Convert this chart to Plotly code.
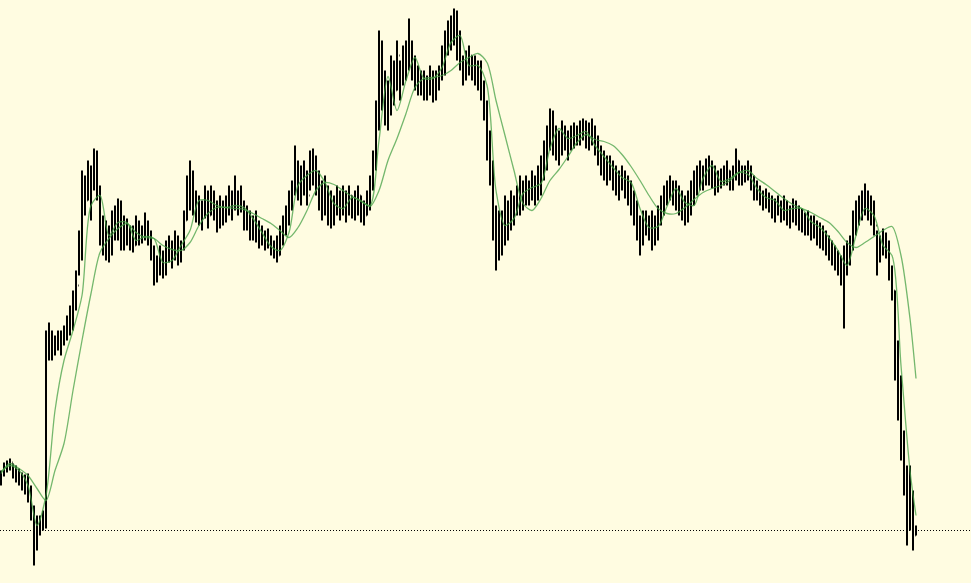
import plotly.graph_objects as go

# ---- data (price points) ----
highs = [113,121,123,125,120,118,115,111,109,110,
         98,78,68,68,73,253,261,253,248,253,
         253,258,268,278,293,313,353,413,408,423,
         418,435,433,398,368,363,358,373,378,385,
         383,368,365,358,358,368,363,358,371,363,
         353,338,328,338,333,343,348,343,353,348,
         343,373,408,423,413,393,388,383,398,393,
         398,393,383,388,383,388,398,393,408,393,
         398,383,378,373,368,373,363,358,353,355,
         348,343,348,358,368,378,393,403,438,423,
         418,423,413,433,435,428,413,403,408,398,
         393,388,398,393,398,393,398,388,393,398,
         388,383,393,408,433,483,553,543,513,503,
         528,523,543,523,538,543,565,543,528,518,
         513,513,508,518,513,513,518,538,553,563,
         568,575,573,553,528,533,538,528,528,523,
         523,503,483,453,423,378,373,373,388,383,
         393,388,398,408,403,408,403,413,408,418,
         428,443,458,475,473,458,453,463,458,453,
         458,461,458,463,465,463,461,465,458,448,
         438,433,428,428,423,418,413,418,413,408,
         403,393,383,368,373,373,368,373,368,378,
         388,398,403,408,403,403,398,393,388,393,
         403,413,418,423,418,425,428,423,418,413,
         415,418,423,413,418,435,423,418,418,423,
         418,408,403,398,393,395,391,388,385,388,
         383,388,383,378,385,383,378,375,371,373,
         368,368,363,361,358,353,348,343,338,333,
         328,338,343,348,373,383,388,393,400,393,
         388,383,353,348,355,351,343,318,293,243,
         208,153,118,118,93,58]
lows = [98,107,111,113,105,101,98,93,89,81,
        63,18,33,48,53,55,223,223,228,233,
        228,238,243,248,253,273,308,323,368,383,
        363,393,383,338,328,323,321,328,343,343,
        333,333,338,333,331,338,338,340,343,338,
        323,298,301,308,305,308,321,315,323,318,
        321,333,363,373,368,361,358,353,365,355,
        368,363,351,355,358,361,368,363,373,368,
        371,353,353,343,343,341,335,338,333,335,
        328,325,321,328,338,348,358,373,388,383,
        378,388,378,393,398,388,373,363,368,358,
        355,358,368,363,368,361,368,365,363,368,
        361,358,368,373,393,413,453,473,458,453,
        468,478,493,483,498,503,513,503,493,488,
        488,483,483,488,481,483,493,503,508,528,
        533,538,523,513,498,503,508,503,498,493,
        483,463,423,398,343,313,323,328,338,343,
        353,358,368,368,373,378,378,383,378,383,
        388,403,413,433,428,423,418,428,433,423,
        433,435,438,438,443,435,433,438,428,418,
        408,403,398,403,393,388,383,393,385,378,
        368,358,343,328,338,348,343,333,338,343,
        358,368,378,383,378,373,368,363,358,361,
        368,378,388,393,393,398,398,395,388,391,
        395,398,398,393,393,403,398,398,401,403,
        393,383,383,378,373,375,371,365,361,368,
        361,363,358,355,361,358,353,351,348,348,
        343,345,338,335,333,328,323,318,313,308,
        298,255,308,318,333,348,358,363,368,363,
        358,348,308,321,328,325,303,283,203,163,
        123,88,38,53,33,48]
closes = [111,118,115,121,113,107,103,108,93,88,
          68,43,53,58,68,248,238,233,243,238,
          245,248,258,263,283,298,343,398,383,408,
          408,418,393,348,338,343,333,358,351,368,
          353,343,355,348,338,353,348,345,358,351,
          328,308,315,323,318,328,338,328,343,328,
          338,363,393,383,378,373,368,378,373,368,
          388,373,363,368,373,378,383,383,388,383,
          378,363,368,353,358,348,343,348,343,345,
          333,335,328,348,358,368,383,393,413,403,
          393,408,388,418,413,403,398,378,388,373,
          368,378,388,378,383,373,388,378,373,388,
          373,368,383,403,423,468,523,488,473,483,
          508,493,528,503,518,528,538,523,508,503,
          498,493,498,503,488,503,511,528,543,548,
          553,558,548,523,508,523,528,518,513,508,
          493,473,438,413,358,348,358,343,368,363,
          378,373,383,388,393,398,388,398,393,408,
          418,433,448,463,443,438,433,448,443,438,
          451,448,453,455,453,448,445,453,438,433,
          423,413,418,413,403,408,398,408,398,393,
          383,368,358,348,363,358,353,348,358,368,
          378,388,393,398,388,383,378,373,368,378,
          393,403,408,413,403,415,418,408,398,403,
          408,411,413,403,408,423,408,413,411,415,
          405,393,395,388,383,388,378,373,378,375,
          371,378,368,368,375,368,363,358,358,355,
          353,355,348,343,341,338,333,328,323,318,
          313,318,328,338,363,373,378,383,383,378,
          368,358,338,338,343,333,313,293,213,183,
          143,113,83,63,48,53]

# moving averages, sampled every third bar (plus the last bar)
ma_bars = list(range(0, len(closes), 3)) + [len(closes) - 1]
ma_fast = [112,118,113,98,58,88,173,223,253,288,
           378,388,348,361,361,343,347,345,321,323,
           338,353,383,383,378,376,378,376,365,351,
           337,333,351,398,408,413,401,380,375,386,
           382,378,443,507,473,503,526,505,505,516,
           541,548,518,518,498,393,358,365,390,396,
           400,435,455,445,448,452,438,427,416,406,
           401,375,356,357,377,395,381,378,405,418,
           402,405,411,409,395,386,383,373,375,375,
           362,356,346,333,318,348,375,368,338,328,
           218,113,68]
ma_slow = [110,120,115,108,95,83,113,140,193,243,
           290,331,345,355,360,351,346,345,338,334,
           333,341,358,370,376,376,375,374,370,365,
           360,353,346,356,373,393,401,399,393,387,
           383,377,393,423,445,470,496,505,506,508,
           513,521,526,530,521,483,448,413,380,373,
           385,403,414,427,441,449,444,442,438,429,
           417,403,388,375,370,370,376,384,391,395,
           398,403,411,413,405,399,392,385,379,375,
           371,366,361,352,341,336,341,347,353,357,
           328,265,205]

opens = [closes[0]] + closes[:-1]
n = len(closes)

BG = "#FFFCE1"
MA_COLOR = "rgba(70,160,70,0.75)"

fig = go.Figure()
fig.add_trace(go.Ohlc(
    x=list(range(n)), open=opens, high=highs, low=lows, close=closes,
    increasing=dict(line=dict(color="#000000", width=2)),
    decreasing=dict(line=dict(color="#000000", width=2)),
    tickwidth=0.2, hoverinfo="skip", showlegend=False,
))
fig.add_trace(go.Scatter(
    x=ma_bars, y=ma_slow, mode="lines",
    line=dict(color=MA_COLOR, width=1.3, shape="spline", smoothing=0.8),
    hoverinfo="skip", showlegend=False,
))
fig.add_trace(go.Scatter(
    x=ma_bars, y=ma_fast, mode="lines",
    line=dict(color=MA_COLOR, width=1.3, shape="spline", smoothing=0.8),
    hoverinfo="skip", showlegend=False,
))

fig.add_shape(type="line", xref="paper", x0=0, x1=1, yref="y",
              y0=closes[-1], y1=closes[-1],
              line=dict(color="#000000", width=1, dash="1px,2px"), layer="below")

fig.update_layout(
    width=971, height=583,
    margin=dict(l=0, r=0, t=0, b=0),
    paper_bgcolor=BG, plot_bgcolor=BG,
    showlegend=False,
    xaxis=dict(range=[-1 / 3, -1 / 3 + 971 / 3], visible=False, showgrid=False,
               zeroline=False, rangeslider=dict(visible=False), fixedrange=True),
    yaxis=dict(range=[0.5, 583.5], visible=False, showgrid=False, zeroline=False,
               fixedrange=True),
)
fig.write_html(
    "out.html",
    config={"displayModeBar": False},
    post_script="document.body.style.margin='0';document.body.style.overflow='hidden';"
                "document.body.style.background='" + BG + "';",
)
